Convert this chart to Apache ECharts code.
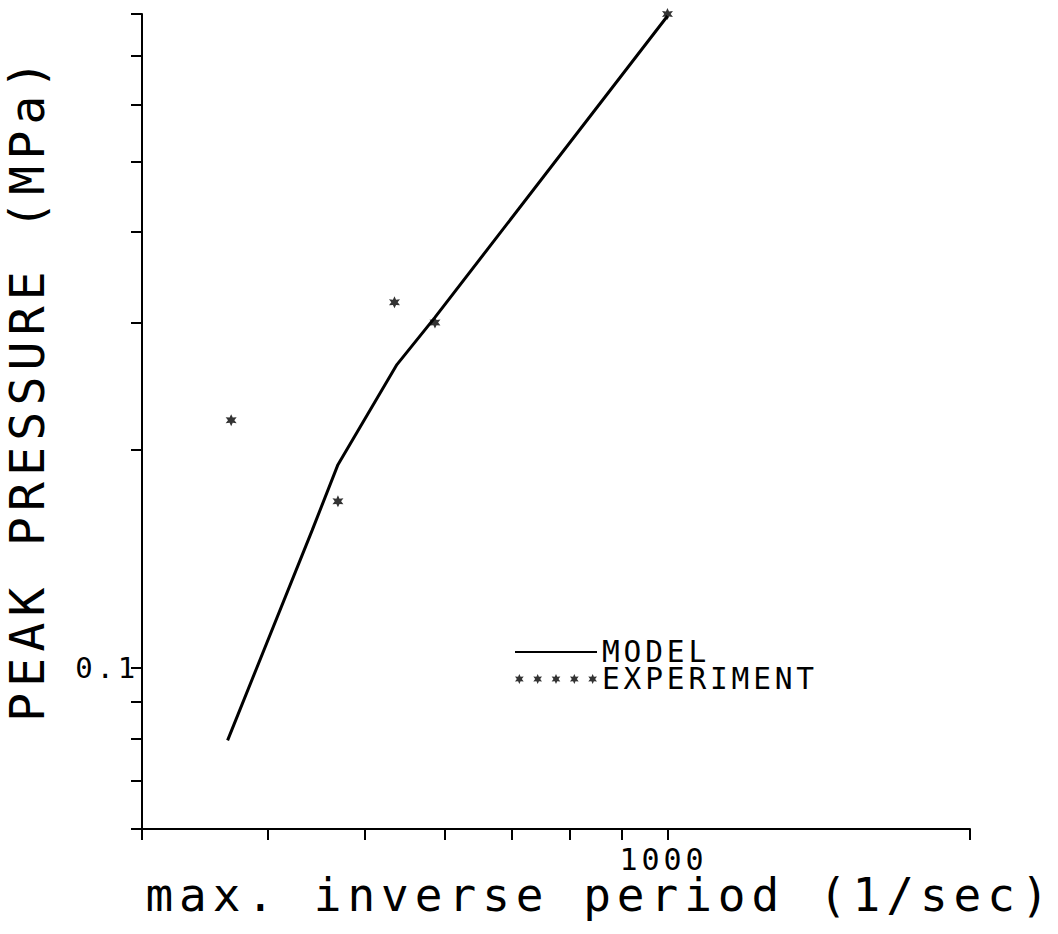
<!DOCTYPE html>
<html>
<head>
<meta charset="utf-8">
<script src="https://cdn.jsdelivr.net/npm/echarts@6/dist/echarts.min.js"></script>
<style>
  html, body { margin: 0; padding: 0; background: #fff; }
  #chart { width: 1058px; height: 934px; }
  /* plotter-style lettering: wide spacing between glyphs, relative to each text's own size */
  #chart svg text { letter-spacing: 0.13em; }
</style>
</head>
<body>
<div id="chart"></div>
<script>
// Measured peak pressures (MPa) against max. inverse period (1/sec)
const expFrequency = [368, 470, 535, 587, 1000];
const expPressure  = [0.22, 0.17, 0.32, 0.30, 0.80];

// Model prediction
const modelFrequency = [365, 443, 470, 538, 587, 1000];
const modelPressure  = [0.0795, 0.155, 0.191, 0.2625, 0.305, 0.795];

// Axis ticks and labelled values
const xTicks  = [300, 400, 500, 600, 700, 800, 900, 1000, 2000];
const yTicks  = [0.06, 0.07, 0.08, 0.09, 0.1, 0.2, 0.3, 0.4, 0.5, 0.6, 0.7, 0.8];
const xLabels = [1000];
const yLabels = [0.1];

const FONT = "'DejaVu Sans Mono', monospace";

// six-pointed star outline centred at (cx, cy)
function starPath(cx, cy, R, r) {
  let d = '';
  for (let i = 0; i < 12; i++) {
    const a = (-90 + 30 * i) * Math.PI / 180;
    const rad = i % 2 === 0 ? R : r;
    d += (i === 0 ? 'M' : 'L') + (cx + rad * Math.cos(a)).toFixed(2) + ',' + (cy + rad * Math.sin(a)).toFixed(2);
  }
  return d + 'Z';
}
const starSymbol = 'path://' + starPath(10, 10, 10, 5);
// a row of five stars for the legend key
let starRow = '';
for (let k = 0; k < 5; k++) starRow += starPath(10 + 36.5 * k, 10, 10, 5);
const starRowIcon = 'path://' + starRow;

const chart = echarts.init(document.getElementById('chart'), null, { renderer: 'svg' });

const axisLineStyle = { color: '#000', width: 2 };

chart.setOption({
  backgroundColor: '#fff',
  animation: false,
  grid: { left: 142, right: 88, top: 14, bottom: 105, containLabel: false, outerBoundsMode: 'none' },
  xAxis: {
    type: 'log',
    logBase: 10,
    min: 300,
    max: 2000,
    axisLine: { show: true, lineStyle: axisLineStyle },
    axisTick: { show: true, inside: false, length: 11, customValues: xTicks, lineStyle: axisLineStyle },
    axisLabel: {
      show: true, customValues: xLabels, margin: 19,
      color: '#000', fontFamily: FONT, fontSize: 30, lineHeight: 22,
      padding: [0, 8, 0, 0],
      formatter: v => String(Math.round(v))
    },
    splitLine: { show: false },
    minorTick: { show: false }
  },
  yAxis: {
    type: 'log',
    logBase: 10,
    min: 0.05999,
    max: 0.8,
    axisLine: { show: true, lineStyle: axisLineStyle },
    axisTick: { show: true, inside: false, length: 11, customValues: yTicks, lineStyle: axisLineStyle },
    axisLabel: {
      show: true, customValues: yLabels, margin: 3,
      color: '#000', fontFamily: FONT, fontSize: 29, lineHeight: 24,
      formatter: v => String(Math.round(v * 10) / 10)
    },
    splitLine: { show: false },
    minorTick: { show: false }
  },
  legend: {
    orient: 'vertical',
    left: 514,
    top: 637,
    itemWidth: 82,
    itemHeight: 11,
    itemGap: -3,
    padding: 0,
    textStyle: { color: '#000', fontFamily: FONT, fontSize: 29.5, lineHeight: 25, padding: 0 },
    data: [
      { name: 'MODEL', itemStyle: { opacity: 0 } },
      { name: 'EXPERIMENT', icon: starRowIcon }
    ]
  },
  graphic: [
    {
      type: 'text',
      x: 27, y: 388,
      rotation: Math.PI / 2,
      style: {
        text: 'PEAK PRESSURE (MPa)',
        font: '48px ' + FONT,
        fill: '#000',
        align: 'center',
        verticalAlign: 'middle'
      }
    },
    {
      type: 'text',
      x: 600, y: 895,
      style: {
        text: 'max. inverse period (1/sec)',
        font: '46px ' + FONT,
        lineHeight: 36,
        fill: '#000',
        align: 'center',
        verticalAlign: 'middle'
      }
    }
  ],
  series: [
    {
      name: 'MODEL',
      type: 'line',
      data: modelFrequency.map((f, i) => [f, modelPressure[i]]),
      symbol: 'none',
      showSymbol: false,
      lineStyle: { color: '#000', width: 3 },
      itemStyle: { color: '#000' },
      z: 2
    },
    {
      name: 'EXPERIMENT',
      type: 'scatter',
      data: expFrequency.map((f, i) => [f, expPressure[i]]),
      symbol: starSymbol,
      symbolSize: [11, 12],
      itemStyle: { color: '#000' },
      z: 3
    }
  ]
});
</script>
</body>
</html>
